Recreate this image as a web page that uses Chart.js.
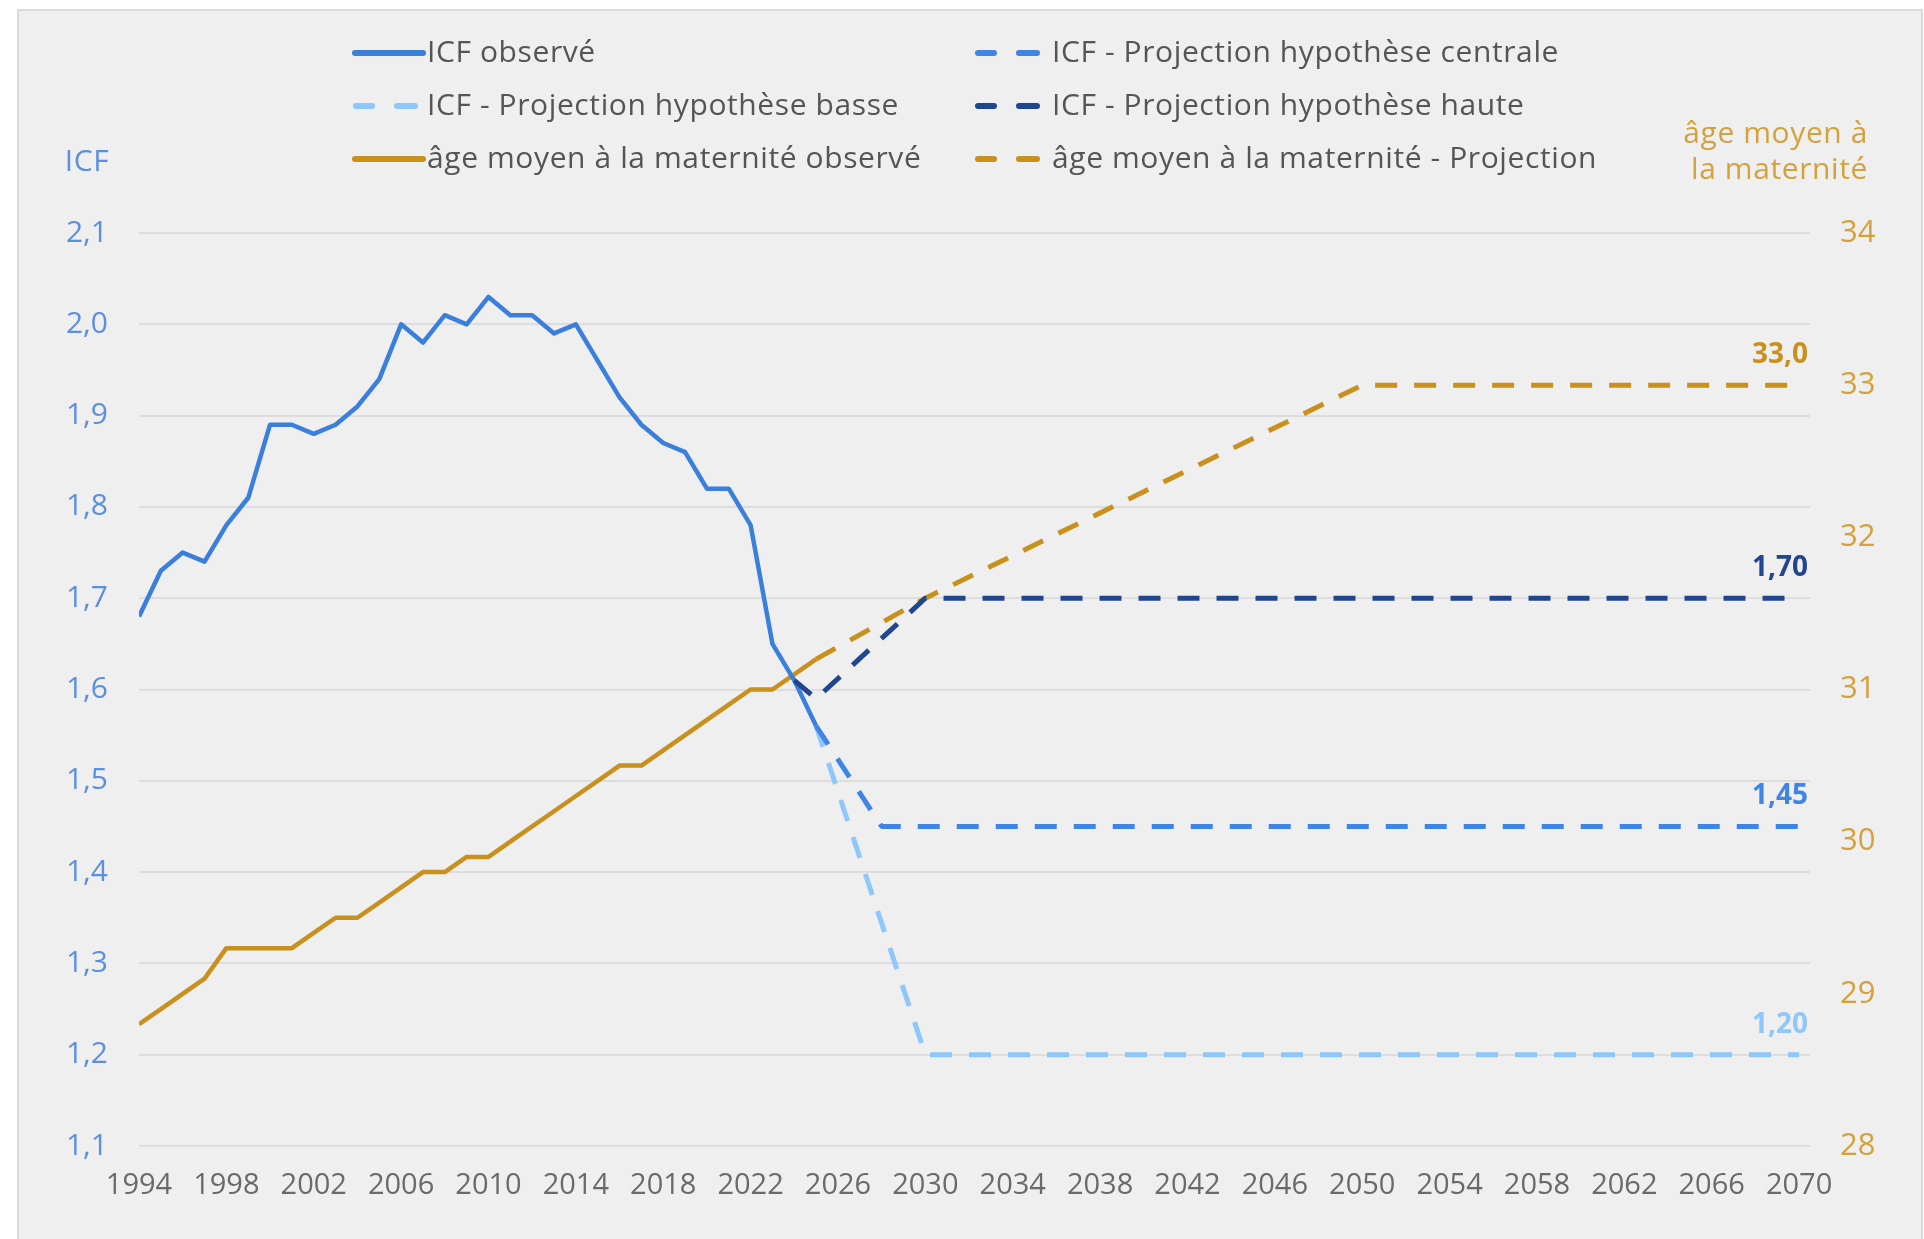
<!DOCTYPE html>
<html>
<head>
<meta charset="utf-8">
<script src="https://cdn.jsdelivr.net/npm/chart.js@4/dist/chart.umd.min.js"></script>
<style>
html,body{margin:0;padding:0;background:#fff;}
#wrap{position:relative;width:1924px;height:1239px;}
</style>
</head>
<body>
<div id="wrap"><canvas id="c" width="1924" height="1239"></canvas></div>
<script>
// ---- Data ----
const obsYears = [1994,1995,1996,1997,1998,1999,2000,2001,2002,2003,2004,2005,2006,2007,2008,2009,2010,2011,2012,2013,2014,2015,2016,2017,2018,2019,2020,2021,2022,2023,2024,2025];
const icfObserve = [1.68,1.73,1.75,1.74,1.78,1.81,1.89,1.89,1.88,1.89,1.91,1.94,2.00,1.98,2.01,2.00,2.03,2.01,2.01,1.99,2.00,1.96,1.92,1.89,1.87,1.86,1.82,1.82,1.78,1.65,1.61,1.56];
const ageObserve = [28.8,28.9,29.0,29.1,29.3,29.3,29.3,29.3,29.4,29.5,29.5,29.6,29.7,29.8,29.8,29.9,29.9,30.0,30.1,30.2,30.3,30.4,30.5,30.5,30.6,30.7,30.8,30.9,31.0,31.0,31.1,31.2];

const centraleYears = [2025,2028,2070];
const icfCentrale   = [1.56,1.45,1.45];
const basseYears    = [2025,2030,2070];
const icfBasse      = [1.56,1.20,1.20];
const hauteYears    = [2024,2025,2030,2070];
const icfHaute      = [1.61,1.59,1.70,1.70];
const ageProjYears  = [2025,2030,2050,2070];
const ageProjection = [31.2,31.6,33.0,33.0];

const xTickLabels = [1994,1998,2002,2006,2010,2014,2018,2022,2026,2030,2034,2038,2042,2046,2050,2054,2058,2062,2066,2070];
const icfTicks = [1.1,1.2,1.3,1.4,1.5,1.6,1.7,1.8,1.9,2.0,2.1];
const ageTicks = [28,29,30,31,32,33,34];

const seriesNames = [
  "ICF observé",
  "ICF - Projection hypothèse centrale",
  "ICF - Projection hypothèse basse",
  "ICF - Projection hypothèse haute",
  "âge moyen à la maternité observé",
  "âge moyen à la maternité - Projection"
];

// ---- Styles ----
const C_OBS = '#3b7fdc';
const C_CEN = '#3f85e6';
const C_BAS = '#8ec7f9';
const C_HAU = '#22468e';
const C_AGE = '#c8911d';
const DASH = [22,17];
const FONT = '"Open Sans", "DejaVu Sans", sans-serif';

const pts = (xs, ys) => xs.map((x,i)=>({x:x, y:ys[i]}));

const datasets = [
  {label: seriesNames[0], data: pts(obsYears, icfObserve), borderColor: C_OBS, borderWidth: 4.5, yAxisID:'y', order: 2},
  {label: seriesNames[1], data: pts(centraleYears, icfCentrale), borderColor: C_CEN, borderWidth: 5, borderDash: DASH, yAxisID:'y', endLabel: v=>v.toFixed(2).replace('.',','), order: 1},
  {label: seriesNames[2], data: pts(basseYears, icfBasse), borderColor: C_BAS, borderWidth: 5, borderDash: DASH, yAxisID:'y', endLabel: v=>v.toFixed(2).replace('.',','), order: 3},
  {label: seriesNames[3], data: pts(hauteYears, icfHaute), borderColor: C_HAU, borderWidth: 5, borderDash: DASH, yAxisID:'y', endLabel: v=>v.toFixed(2).replace('.',','), order: 0},
  {label: seriesNames[4], data: pts(obsYears, ageObserve), borderColor: C_AGE, borderWidth: 4.5, yAxisID:'y2', order: 4},
  {label: seriesNames[5], data: pts(ageProjYears, ageProjection), borderColor: C_AGE, borderWidth: 5, borderDash: DASH, yAxisID:'y2', endLabel: v=>v.toFixed(1).replace('.',','), order: 4}
];
datasets.forEach(d=>{d.pointRadius=0; d.fill=false; d.tension=0; d.borderCapStyle='butt'; d.borderJoinStyle='round'; d.backgroundColor=d.borderColor;});

const bgPlugin = {
  id:'bg',
  beforeDraw(chart){
    const ctx = chart.ctx;
    ctx.save();
    ctx.fillStyle = '#ffffff';
    ctx.fillRect(0,0,chart.width,chart.height);
    ctx.fillStyle = '#efefef';
    ctx.fillRect(18,10,1904,1240);
    ctx.strokeStyle = '#dadada';
    ctx.lineWidth = 2;
    ctx.strokeRect(18,10,1904,1240);
    ctx.restore();
  }
};

const decoPlugin = {
  id:'deco',
  afterDraw(chart){
    const ctx = chart.ctx;
    ctx.save();
    // Legend
    const rows = [53,106,159];
    const cols = [{m:353,t:427},{m:975,t:1052}];
    const order = [[0,1],[2,3],[4,5]];
    ctx.font = '30px ' + FONT;
    try { ctx.letterSpacing = '0.6px'; } catch(e) {}
    ctx.textBaseline = 'middle';
    ctx.textAlign = 'left';
    order.forEach((pair, r)=>{
      pair.forEach((di, c)=>{
        const ds = datasets[di];
        const y = rows[r];
        const mx = cols[c].m;
        ctx.strokeStyle = ds.borderColor;
        ctx.lineWidth = 6;
        ctx.lineCap = 'round';
        ctx.beginPath();
        if (ds.borderDash) {
          ctx.moveTo(mx+3, y); ctx.lineTo(mx+19, y);
          ctx.moveTo(mx+44, y); ctx.lineTo(mx+62, y);
        } else {
          ctx.moveTo(mx+2, y); ctx.lineTo(mx+70, y);
        }
        ctx.stroke();
        ctx.fillStyle = '#555555';
        ctx.fillText(ds.label, cols[c].t, y);
      });
    });
    // Axis titles
    ctx.font = '30px ' + FONT;
    ctx.fillStyle = '#5b8fe0';
    ctx.textAlign = 'center';
    ctx.fillText('ICF', 87, 162);
    ctx.fillStyle = '#d3a23c';
    ctx.textAlign = 'right';
    ctx.fillText('âge moyen à', 1868, 134);
    ctx.fillText('la maternité', 1868, 170);
    try { ctx.letterSpacing = '0px'; } catch(e) {}
    // End labels
    ctx.font = 'bold 28px ' + FONT;
    ctx.textAlign = 'right';
    chart.data.datasets.forEach((ds, i)=>{
      if (!ds.endLabel) return;
      const meta = chart.getDatasetMeta(i);
      const el = meta.data[meta.data.length-1];
      const v = ds.data[ds.data.length-1].y;
      ctx.fillStyle = ds.borderColor;
      ctx.fillText(ds.endLabel(v), el.x + 9, el.y - 30);
    });
    ctx.restore();
  }
};

new Chart(document.getElementById('c'), {
  type:'line',
  data:{datasets: datasets},
  options:{
    responsive:false,
    animation:false,
    devicePixelRatio:1,
    layout:{padding:{top:233,left:0,right:0,bottom:0}},
    plugins:{legend:{display:false}, tooltip:{enabled:false}},
    scales:{
      x:{
        type:'linear', min:1994, max:2070.5,
        afterBuildTicks(s){ s.ticks = xTickLabels.map(v=>({value:v})); },
        afterFit(s){ s.height = 93; },
        grid:{display:false, drawTicks:false},
        border:{display:false},
        ticks:{padding:22, color:'#6a6a6a', font:{family:FONT, size:29}, maxRotation:0, autoSkip:false, callback:v=>String(v)}
      },
      y:{
        position:'left', min:1.1, max:2.1,
        afterBuildTicks(s){ s.ticks = icfTicks.map(v=>({value:v})); },
        afterFit(s){ s.width = 139; },
        grid:{color:'#dddddd', lineWidth:2, drawTicks:false},
        border:{display:false},
        ticks:{padding:31, color:'#5b8fe0', font:{family:FONT, size:30}, callback:v=>v.toFixed(1).replace('.',',')}
      },
      y2:{
        position:'right', min:28, max:34,
        afterBuildTicks(s){ s.ticks = ageTicks.map(v=>({value:v})); },
        afterFit(s){ s.width = 114; },
        grid:{display:false, drawTicks:false},
        border:{display:false},
        ticks:{padding:30, color:'#d3a23c', font:{family:FONT, size:31}, callback:v=>String(v)}
      }
    }
  },
  plugins:[bgPlugin, decoPlugin]
});
</script>
</body>
</html>
